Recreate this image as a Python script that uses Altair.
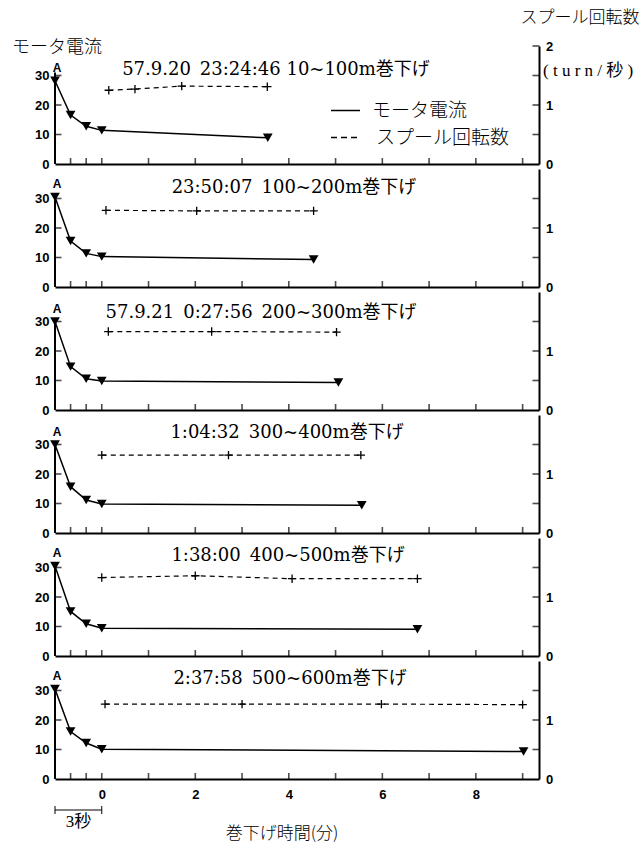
import altair as alt
import pandas as pd

# ---------------- data ----------------
titles = [
    "57.9.20\u200223:24:46 10~100m巻下げ",
    "23:50:07\u2002100~200m巻下げ",
    "57.9.21\u20020:27:56\u2002200~300m巻下げ",
    "1:04:32\u2002300~400m巻下げ",
    "1:38:00\u2002400~500m巻下げ",
    "2:37:58\u2002500~600m巻下げ",
]

# x in axis units: -1..0 is the 3-second zoomed start, then minutes
motor_t = [
    [-1, -0.667, -0.333, 0, 3.55],
    [-1, -0.667, -0.333, 0, 4.53],
    [-1, -0.667, -0.333, 0, 5.06],
    [-1, -0.667, -0.333, 0, 5.56],
    [-1, -0.667, -0.333, 0, 6.75],
    [-1, -0.667, -0.333, 0, 9.02],
]
motor_a = [
    [28.2, 16.6, 12.8, 11.4, 8.9],
    [30.5, 15.6, 11.4, 10.3, 9.3],
    [30.0, 14.7, 10.6, 9.8, 9.3],
    [30.0, 15.7, 11.2, 9.8, 9.4],
    [30.5, 15.1, 10.9, 9.4, 9.1],
    [30.5, 16.1, 12.2, 10.1, 9.3],
]
spool_t = [
    [0.15, 0.71, 1.71, 3.54],
    [0.09, 2.03, 4.53],
    [0.14, 2.35, 5.02],
    [0.0, 2.71, 5.54],
    [0.0, 2.0, 4.07, 6.75],
    [0.07, 3.0, 5.98, 9.0],
]
spool_r = [
    [1.25, 1.27, 1.32, 1.31],
    [1.30, 1.29, 1.29],
    [1.33, 1.33, 1.32],
    [1.32, 1.32, 1.32],
    [1.33, 1.36, 1.31, 1.31],
    [1.27, 1.27, 1.27, 1.26],
]

x_labels = [0, 2, 4, 6, 8]
bottom_ticks = [-0.667, -0.333, 0, 1, 2, 3, 4, 5, 6, 7, 8, 9]
left_labels = [0, 10, 20, 30]
left_ticks = [10, 20, 30]
right_labels_first = ["0", "1", "2"]
right_labels = ["0", "1"]
right_ticks_first = [0.5, 1, 1.5, 2]
right_ticks = [0.5, 1, 1.5]
legend_labels = ["モータ電流", "スプール回転数"]
left_title = "モータ電流"
right_title = "スプール回転数"
right_unit = "(\u2005t\u2005u\u2005r\u2005n\u2005/\u2005秒\u2005)"
x_title = "巻下げ時間(分)"
bracket_label = "3秒"

# ---------------- layout / style ----------------
W, H = 484, 118
X_DOMAIN = [-1, 9.35]
L_DOMAIN = [0, 40]
R_DOMAIN = [0, 2]
SANS_B = "Liberation Sans"
SERIF = "Liberation Serif, Noto Sans CJK JP"
TSERIF = "DejaVu Serif, Noto Sans CJK JP"
JP = "Noto Sans CJK JP"
TITLE_X = [221, 239, 206, 232, 233, 235]
TITLE_Y = [24, 18.5, 20.5, 17.5, 17.5, 17.5]

xs = alt.Scale(domain=X_DOMAIN, nice=False, zero=False)
ls = alt.Scale(domain=L_DOMAIN, nice=False, zero=True)
rs = alt.Scale(domain=R_DOMAIN, nice=False, zero=True)


def one(**kw):
    return pd.DataFrame({k: [v] for k, v in kw.items()})


def text_layer(txt, x, y, size, font=SERIF, align="center", weight="normal"):
    return alt.Chart(one(t=txt)).mark_text(
        align=align, baseline="middle", font=font, fontSize=size,
        fontWeight=weight, color="black"
    ).encode(text="t:N", x=alt.value(x), y=alt.value(y))


def panel(i):
    first = i == 0
    last = i == len(titles) - 1
    mdf = pd.DataFrame({"x": motor_t[i], "y": motor_a[i]})
    sdf = pd.DataFrame({"x": spool_t[i], "y": spool_r[i]})
    rl = right_labels_first if first else right_labels
    rldf = pd.DataFrame({"t": rl, "y": [float(v) for v in rl]})

    common = dict(grid=False, title=None, format="d", labelFont=SANS_B,
                  labelFontWeight="bold", labelFontSize=13, labelColor="black",
                  labelOverlap=False, labelFlush=False, ticks=False)
    xaxis = alt.Axis(values=x_labels, labels=last, domain=True, domainWidth=2,
                     domainColor="black", labelPadding=9, **common)
    laxis = alt.Axis(values=left_labels, domain=False, labelPadding=6, **common)
    raxis = alt.Axis(orient="right", values=[0, 1], labels=False,
                     domain=True, domainWidth=2, domainColor="black",
                     grid=False, title=None, ticks=False)

    def X(f="x:Q"):
        return alt.X(f, scale=xs, axis=xaxis)

    def YL(f="y:Q"):
        return alt.Y(f, scale=ls, axis=laxis)

    def YR(f="y:Q"):
        return alt.Y(f, scale=rs, axis=raxis)

    motor_line = alt.Chart(mdf).mark_line(color="black", strokeWidth=1.5).encode(
        x=X(), y=YL())
    motor_pts = alt.Chart(mdf).mark_point(
        shape="triangle-down", filled=True, size=95, color="black", opacity=1
    ).encode(x=X(), y=YL())
    a_txt = alt.Chart(mdf.iloc[[0]]).mark_text(
        text="A", dx=2, dy=-13, font=SANS_B, fontWeight="bold", fontSize=12,
        color="black"
    ).encode(x=X(), y=YL())
    left_rule = alt.Chart(one(y=0, y2=31)).mark_rule(
        strokeWidth=2, color="black"
    ).encode(x=alt.value(0), y=YL(), y2="y2:Q")
    lticks = alt.Chart(pd.DataFrame({"y": left_ticks})).mark_tick(
        orient="horizontal", size=7, thickness=1.6, xOffset=3, color="black"
    ).encode(x=alt.value(0), y=YL())
    bticks = alt.Chart(pd.DataFrame({"x": bottom_ticks})).mark_tick(
        orient="vertical", size=6, thickness=1.6, yOffset=-3, color="black"
    ).encode(x=X(), y=alt.value(H))
    ttl = text_layer(titles[i], TITLE_X[i], TITLE_Y[i], 18, font=TSERIF)

    left_parts = [motor_line, left_rule, lticks, bticks, motor_pts, a_txt, ttl]

    if first:
        left_parts += [
            alt.Chart(one(k=0)).mark_rule(color="black", strokeWidth=1.5).encode(
                x=alt.value(276), x2=alt.value(305), y=alt.value(64.5)),
            alt.Chart(one(k=0)).mark_rule(color="black", strokeWidth=1.3,
                                          strokeDash=[6, 4]).encode(
                x=alt.value(276), x2=alt.value(305), y=alt.value(91.5)),
            text_layer(legend_labels[0], 317, 64.5, 19, font=JP, align="left", weight=300),
            text_layer(legend_labels[1], 321, 91.5, 19, font=JP, align="left", weight=300),
            text_layer(left_title, -43, 1.5, 18, font=JP, align="left", weight=300),
            text_layer(right_title, 525, -28.5, 17, font=JP, weight=300),
            text_layer(right_unit, 488, 24.5, 17, align="left"),
        ]
    if last:
        left_parts += [
            alt.Chart(one(x=X_DOMAIN[0], x2=0)).mark_rule(
                color="black", strokeWidth=1).encode(
                x=X(), x2="x2:Q", y=alt.value(H + 31)),
            alt.Chart(pd.DataFrame({"x": [X_DOMAIN[0], 0]})).mark_rule(
                color="black", strokeWidth=1).encode(
                x=X(), y=alt.value(H + 27), y2=alt.value(H + 35)),
            alt.Chart(one(x=-0.5, t=bracket_label)).mark_text(
                font=SERIF, fontSize=17, color="black", baseline="middle"
            ).encode(x=X(), y=alt.value(H + 43), text="t:N"),
            text_layer(x_title, W / 2 - 15, H + 55, 17, font=JP, weight=300),
        ]

    left = alt.layer(*left_parts)

    spool_line = alt.Chart(sdf).mark_line(
        color="black", strokeWidth=1.2, strokeDash=[5, 4]
    ).encode(x=X(), y=YR())
    spool_pts = alt.Chart(sdf).mark_point(
        shape="M-1,0L1,0M0,-1L0,1", filled=False, size=70, strokeWidth=1.3,
        color="black", opacity=1
    ).encode(x=X(), y=YR())
    rticks = alt.Chart(pd.DataFrame({"y": right_ticks_first if first else right_ticks})).mark_tick(
        orient="horizontal", size=7, thickness=1.6, xOffset=-3, color="black"
    ).encode(x=alt.value(W), y=YR())
    rlabels = alt.Chart(rldf).mark_text(
        align="left", baseline="middle", font=SANS_B, fontWeight="bold",
        fontSize=13, color="black", dy=1
    ).encode(x=alt.value(W + 7), y=YR(), text="t:N")
    right = alt.layer(spool_line, spool_pts, rticks, rlabels)

    return alt.layer(left, right).resolve_scale(y="independent").properties(
        width=W, height=H)


chart = alt.vconcat(*[panel(i) for i in range(len(titles))], spacing=5,
                    bounds="flush").properties(
    padding={"left": 12, "top": 8, "right": 2, "bottom": 2},
    background="white",
).configure_view(stroke=None).configure_axis(grid=False)

chart.save("out.html", embed_options={"renderer": "svg", "actions": False})
